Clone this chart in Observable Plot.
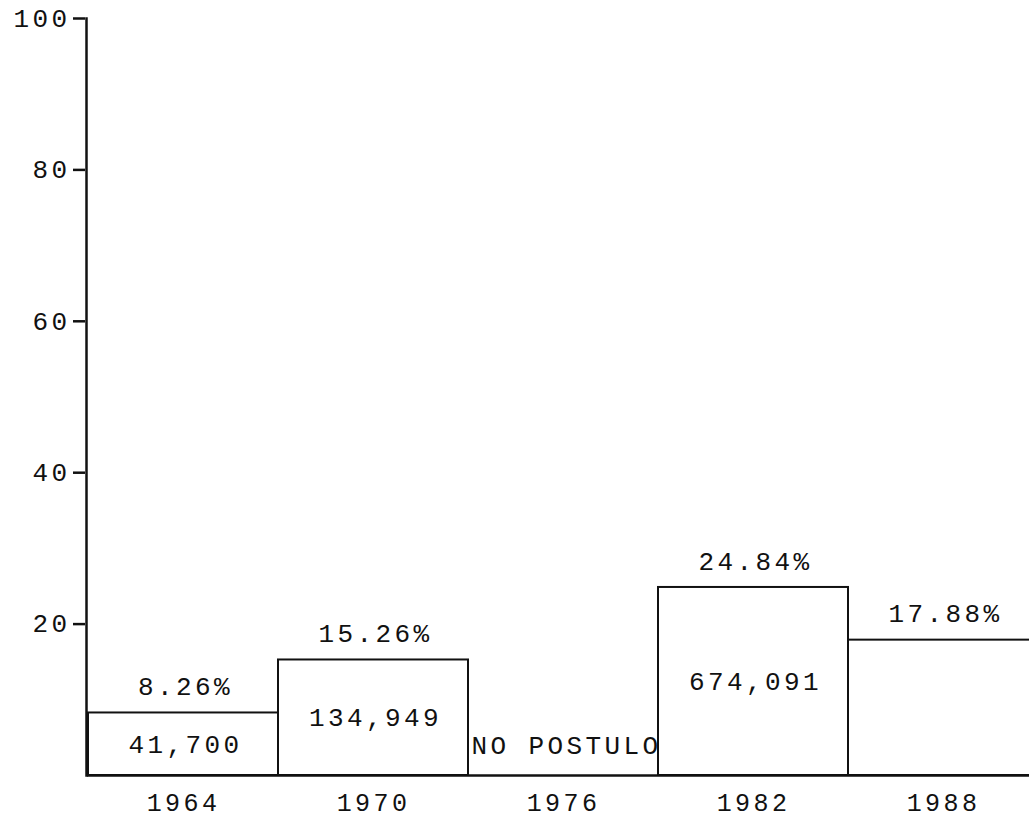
<!DOCTYPE html>
<html>
<head>
<meta charset="utf-8">
<script src="https://cdn.jsdelivr.net/npm/d3@7"></script>
<script src="https://cdn.jsdelivr.net/npm/@observablehq/plot@0.6"></script>
<style>
  html, body { margin: 0; padding: 0; background: #fff; overflow: hidden; }
</style>
</head>
<body>
<div id="chart"></div>
<script>
const years = ["1964", "1970", "1976", "1982", "1988"];
const percents = [8.26, 15.26, null, 24.84, 17.88];
const votes = [41700, 134949, null, 674091, null];
const notes = [null, null, "NO POSTULO", null, null];
const yTicks = [20, 40, 60, 80, 100];

const data = years.map((y, i) => ({year: y, pct: percents[i], votes: votes[i], note: notes[i]}));
const bars = data.filter(d => d.pct != null);
const font = "'Liberation Mono', 'DejaVu Sans Mono', monospace";

const chart = Plot.plot({
  width: 1029,
  height: 823,
  marginLeft: 87,
  marginRight: -10,
  marginTop: 18,
  marginBottom: 48,
  style: {fontFamily: font, fontSize: "26px", letterSpacing: "3.4px", color: "#111", background: "#fff"},
  x: {domain: years, padding: 0, label: null},
  y: {domain: [0, 100], label: null},
  marks: [
    Plot.frame({anchor: "left", dx: -1, stroke: "#111", strokeWidth: 2.5}),
    Plot.axisY({ticks: yTicks, tickSize: 12, tickPadding: 3, tickFormat: d => String(d), stroke: "#111", strokeWidth: 2.5, fill: "#111", dx: -2}),
    Plot.axisX({tickSize: 0, tickPadding: 18, fontSize: 25, fill: "#111"}),
    Plot.barY(bars, {x: "year", y: "pct", fill: "none", stroke: "#111", strokeWidth: 2, insetLeft: 0, insetRight: 0}),
    Plot.ruleY([0], {stroke: "#111", strokeWidth: 2.5}),
    Plot.text(bars, {x: "year", y: "pct", text: d => d.pct.toFixed(2) + "%", dy: -26, dx: 2, lineAnchor: "middle", fill: "#111"}),
    Plot.text(data.filter(d => d.votes != null), {x: "year", y: d => d.pct / 2, text: d => d3.format(",")(d.votes), dx: 2, lineAnchor: "middle", fill: "#111"}),
    Plot.text(data.filter(d => d.note != null), {x: "year", y: 4, text: "note", textAnchor: "start", dx: -92, lineAnchor: "middle", fill: "#111"})
  ]
});
document.getElementById("chart").appendChild(chart);
</script>
</body>
</html>
